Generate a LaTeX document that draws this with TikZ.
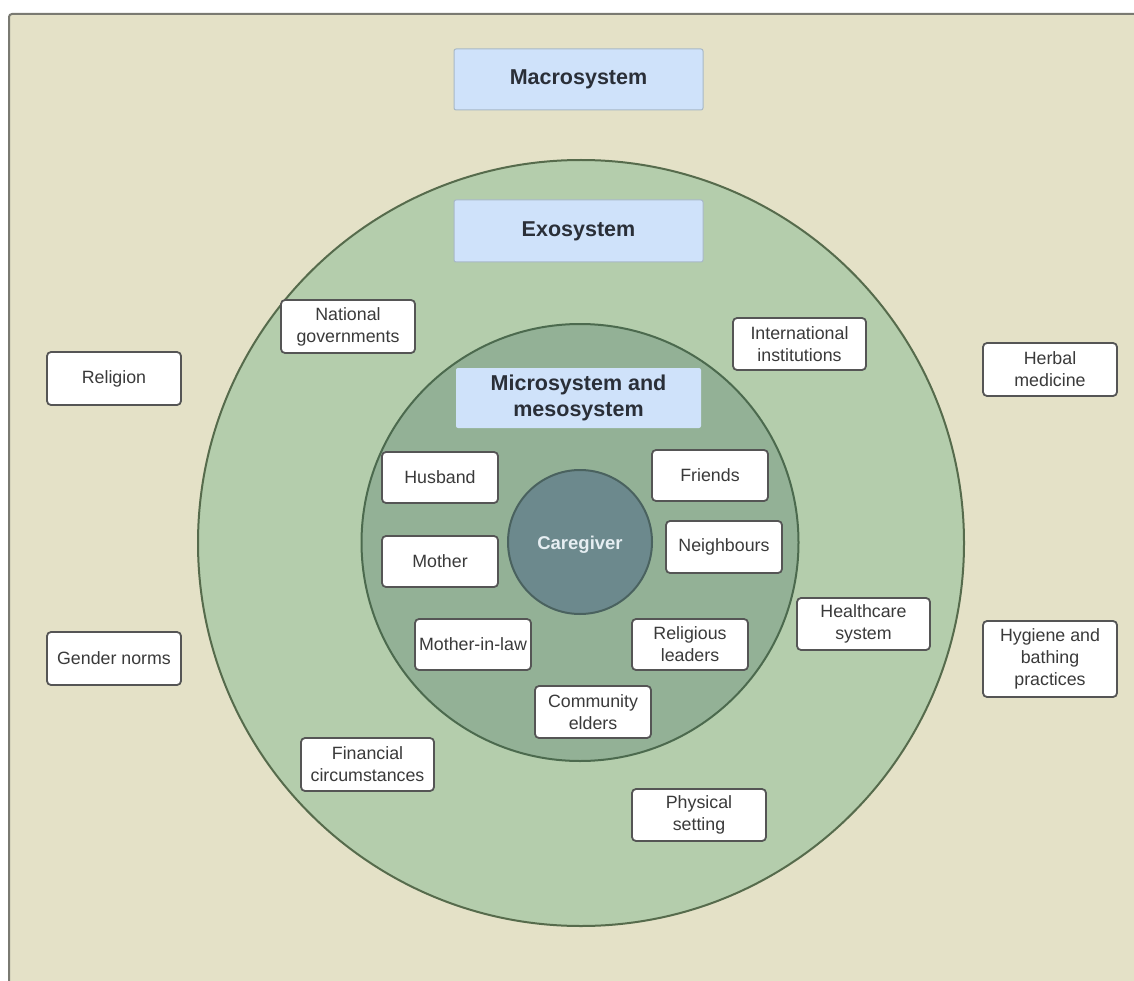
\documentclass[tikz,border=0pt]{standalone}
\usepackage{fontspec}
\setmainfont{Liberation Sans}
\definecolor{bgc}{HTML}{E4E1C7}
\definecolor{framec}{HTML}{7A7A72}
\definecolor{exofill}{HTML}{B4CDAC}
\definecolor{exodraw}{HTML}{566B4C}
\definecolor{mesofill}{HTML}{93B196}
\definecolor{mesodraw}{HTML}{4C6A4E}
\definecolor{carefill}{HTML}{6C898D}
\definecolor{caredraw}{HTML}{4A625F}
\definecolor{titlefill}{HTML}{CFE2FA}
\definecolor{titledraw}{HTML}{A8B8C6}
\definecolor{boxdraw}{HTML}{555555}
\definecolor{txt}{HTML}{3A3A3A}
\definecolor{titletxt}{HTML}{2A2F38}
\definecolor{caretxt}{HTML}{E6EEF2}
\begin{document}
\begin{tikzpicture}[x=1pt,y=-1pt,
  wbox/.style={draw=boxdraw, line width=1.8pt, fill=white, rounded corners=4pt,
    align=center, inner sep=0pt, text=txt,
    font=\fontsize{17.8}{22}\selectfont},
  titlebox/.style={draw=titledraw, line width=1pt, fill=titlefill, rounded corners=2pt,
    align=center, inner sep=0pt, text=titletxt, minimum width=249pt, minimum height=61pt,
    font=\fontsize{21.5}{26}\selectfont\bfseries},
  ring/.style={circle, inner sep=0pt, line width=2pt}
]
\useasboundingbox (0,0) rectangle (1134,981);
\fill[white] (0,0) rectangle (1134,981);
\draw[fill=bgc, draw=framec, line width=2pt, rounded corners=3pt] (9,14) rectangle (1150,1000);

% circles
\node[ring, draw=exodraw, fill=exofill, minimum size=766pt] (exo) at (581,543) {};
\node[ring, draw=mesodraw, fill=mesofill, minimum size=437pt] (meso) at (580,542.5) {};
\node[ring, draw=caredraw, fill=carefill, minimum size=144pt] (care) at (580,542) {};
\node[text=caretxt, font=\fontsize{18.5}{22}\selectfont\bfseries, inner sep=0pt] (caretext) at (580,545) {Caregiver};

% titles
\node[titlebox] (macro) at (578.5,79.5) {Macrosystem};
\node[titlebox, minimum height=62pt] (exot) at (578.5,231) {Exosystem};
\node[titlebox, draw=none, minimum width=245pt, minimum height=60pt] (micro) at (578.5,398) {Microsystem and\\mesosystem};

% macrosystem
\node[wbox, minimum width=134pt, minimum height=53pt] (religion) at (114,378.5) {Religion};
\node[wbox, minimum width=134pt, minimum height=53pt] (gender) at (114,658.5) {Gender norms};
\node[wbox, minimum width=134pt, minimum height=53pt] (herbal) at (1050,369.5) {Herbal\\medicine};
\node[wbox, minimum width=134pt, minimum height=76pt] (hygiene) at (1050,659) {Hygiene and\\bathing\\practices};

% exosystem
\node[wbox, minimum width=134pt, minimum height=53pt] (natgov) at (348,326.5) {National\\governments};
\node[wbox, minimum width=133pt, minimum height=52pt] (intinst) at (799.5,344) {International\\institutions};
\node[wbox, minimum width=133pt, minimum height=52pt] (health) at (863.5,624) {Healthcare\\system};
\node[wbox, minimum width=133pt, minimum height=53pt] (finance) at (367.5,764.5) {Financial\\circumstances};
\node[wbox, minimum width=134pt, minimum height=52pt] (physical) at (699,815) {Physical\\setting};

% microsystem
\node[wbox, minimum width=116pt, minimum height=51pt] (husband) at (440,477.5) {Husband};
\node[wbox, minimum width=116pt, minimum height=51pt] (friends) at (710,475.5) {Friends};
\node[wbox, minimum width=116pt, minimum height=51pt] (mother) at (440,561.5) {Mother};
\node[wbox, minimum width=116pt, minimum height=52pt] (neigh) at (724,547) {Neighbours};
\node[wbox, minimum width=116pt, minimum height=51pt] (mil) at (473,644.5) {Mother-in-law};
\node[wbox, minimum width=116pt, minimum height=51pt] (relig) at (690,644.5) {Religious\\leaders};
\node[wbox, minimum width=116pt, minimum height=52pt] (elders) at (593,712) {Community\\elders};
\end{tikzpicture}
\end{document}
